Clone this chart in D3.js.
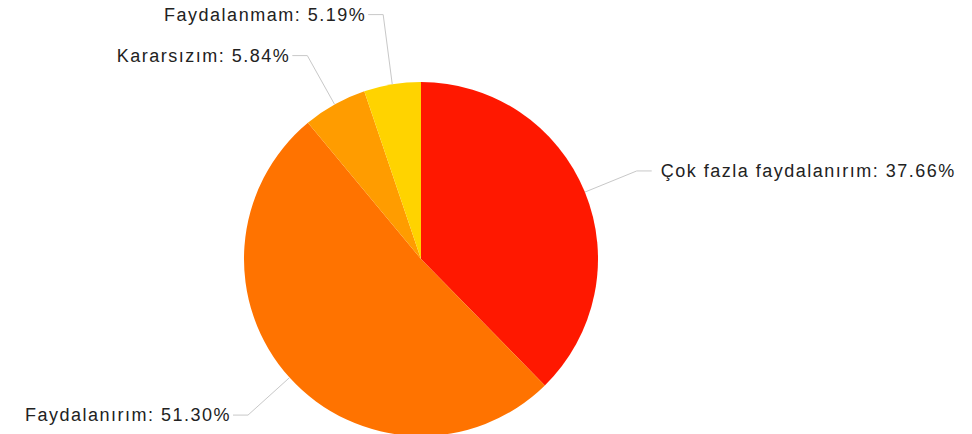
<!DOCTYPE html>
<html>
<head>
<meta charset="utf-8">
<script src="https://cdn.jsdelivr.net/npm/d3@7/dist/d3.min.js"></script>
<style>
html,body{margin:0;padding:0;background:#fff;}
svg{display:block;}
</style>
</head>
<body>
<svg id="chart" width="972" height="434"></svg>
<script>
const categories = ["Çok fazla faydalanırım", "Faydalanırım", "Kararsızım", "Faydalanmam"];
const values = [37.66, 51.30, 5.84, 5.19];
const colors = ["#FF1800", "#FF7300", "#FF9C00", "#FFD300"];

const W = 972, H = 434;
const cx = 421, cy = 259, R = 177;
const elbowR = 233, hseg = 15, minSpacing = 41;

const svg = d3.select("#chart");
const g = svg.append("g").attr("transform", `translate(${cx},${cy})`);

const data = categories.map((c, i) => ({name: c, value: values[i], color: colors[i]}));
const pie = d3.pie().sort(null).value(d => d.value);
const arcs = pie(data);
const arc = d3.arc().innerRadius(0).outerRadius(R);

g.selectAll("path.slice").data(arcs).enter().append("path")
  .attr("class", "slice")
  .attr("d", arc)
  .attr("fill", d => d.data.color);

// Label layout
const labels = arcs.map(a => {
  const mid = (a.startAngle + a.endAngle) / 2;
  const sx = Math.sin(mid), sy = -Math.cos(mid);
  return {
    a, mid,
    start: [R * sx, R * sy],
    elbow: [elbowR * sx, elbowR * sy],
    side: sx >= 0 ? 1 : -1
  };
});
// simple collision avoidance per side: push upward
[-1, 1].forEach(side => {
  const group = labels.filter(l => l.side === side).sort((p, q) => q.elbow[1] - p.elbow[1]);
  for (let i = 1; i < group.length; i++) {
    const prev = group[i - 1], cur = group[i];
    if (prev.elbow[1] - cur.elbow[1] < minSpacing) {
      cur.elbow[1] = prev.elbow[1] - minSpacing;
    }
  }
});

const fmt = d3.format(".2f");
labels.forEach(l => {
  const end = [l.elbow[0] + l.side * hseg, l.elbow[1]];
  g.append("polyline")
    .attr("points", [l.start, l.elbow, end].map(p => p.join(",")).join(" "))
    .attr("fill", "none")
    .attr("stroke", "#c8c8c8")
    .attr("stroke-width", 1);
  g.append("text")
    .attr("x", end[0] + (l.side > 0 ? 9 : -2))
    .attr("y", end[1] + 6)
    .attr("text-anchor", l.side > 0 ? "start" : "end")
    .attr("font-family", "'Liberation Sans', Arial, sans-serif")
    .attr("font-size", 18)
    .attr("letter-spacing", "1.5px")
    .attr("fill", "#222")
    .text(`${l.a.data.name}: ${fmt(l.a.data.value)}%`);
});
</script>
</body>
</html>
